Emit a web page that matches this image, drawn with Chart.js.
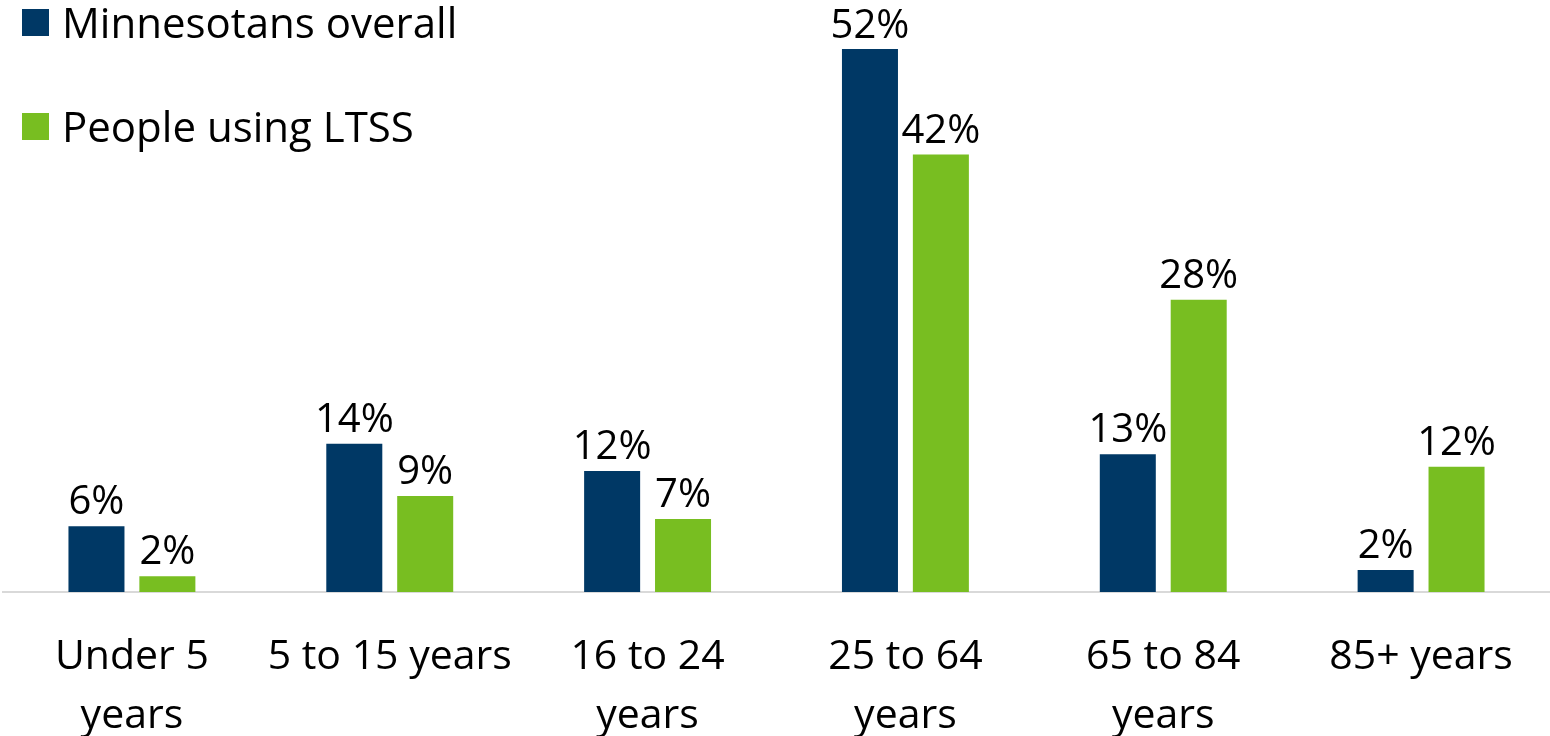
<!DOCTYPE html>
<html>
<head>
<meta charset="utf-8">
<script src="https://cdn.jsdelivr.net/npm/chart.js@4"></script>
<style>
  html, body { margin: 0; padding: 0; background: #fff; }
  #wrap { position: relative; width: 1550px; height: 736px; }
  .legend { position: absolute; left: 22px; font-family: 'Open Sans', sans-serif; font-size: 42px; color: #000; line-height: 1; display: flex; align-items: center; }
  .legend span.box { display: inline-block; width: 27px; height: 27px; margin-right: 13px; }
</style>
</head>
<body>
<div id="wrap">
  <canvas id="ageChart"></canvas>
  <div class="legend" style="top: 1px;"><span class="box" style="background:#003865"></span>Minnesotans overall</div>
  <div class="legend" style="top: 105px;"><span class="box" style="background:#78BE21"></span>People using LTSS</div>
</div>
<script>
// Age groups and shares (%)
const ageGroups = [
    ['Under 5', 'years'],
    '5 to 15 years',
    ['16 to 24', 'years'],
    ['25 to 64', 'years'],
    ['65 to 84', 'years'],
    '85+ years'
];
const overallShare = [6.3, 14.2, 11.6, 52.0, 13.2, 2.1];
const ltssShare = [1.5, 9.2, 7.0, 41.9, 28.0, 12.0];

const navy = '#003865';
const green = '#78BE21';

// Draw value labels above each bar
const valueLabels = {
    id: 'valueLabels',
    afterDatasetsDraw(chart) {
        const ctx = chart.ctx;
        ctx.save();
        ctx.font = "40px 'Open Sans', sans-serif";
        ctx.fillStyle = '#000';
        ctx.textAlign = 'center';
        ctx.textBaseline = 'alphabetic';
        chart.data.datasets.forEach((ds, i) => {
            chart.getDatasetMeta(i).data.forEach((bar, j) => {
                const text = Math.round(ds.data[j]) + '%';
                const y = Math.max(bar.y - 12, 38);
                ctx.fillText(text, bar.x, y);
            });
        });
        ctx.restore();
    }
};

const ctx = document.getElementById('ageChart').getContext('2d');
const ageChart = new Chart(ctx, {
    type: 'bar',
    data: {
        labels: ageGroups,
        datasets: [{
            label: 'Minnesotans overall',
            data: overallShare,
            backgroundColor: navy
        }, {
            label: 'People using LTSS',
            data: ltssShare,
            backgroundColor: green
        }]
    },
    options: {
        responsive: true,
        maintainAspectRatio: false,
        animation: false,
        barPercentage: 0.79,
        categoryPercentage: 0.55,
        layout: { padding: { left: 3, right: 0, top: 0, bottom: 0 } },
        plugins: {
            legend: { display: false },
            tooltip: { enabled: false }
        },
        scales: {
            x: {
                grid: { display: false, drawTicks: false },
                border: { display: true, color: '#d9d9d9', width: 2 },
                ticks: {
                    color: '#000',
                    padding: 36,
                    maxRotation: 0,
                    autoSkip: false,
                    font: { family: "'Open Sans', sans-serif", size: 41, lineHeight: 1.43 }
                },
                afterFit(scale) { scale.height = 144; }
            },
            y: {
                display: false,
                min: 0,
                max: 56.7
            }
        }
    },
    plugins: [valueLabels]
});
</script>
</body>
</html>
